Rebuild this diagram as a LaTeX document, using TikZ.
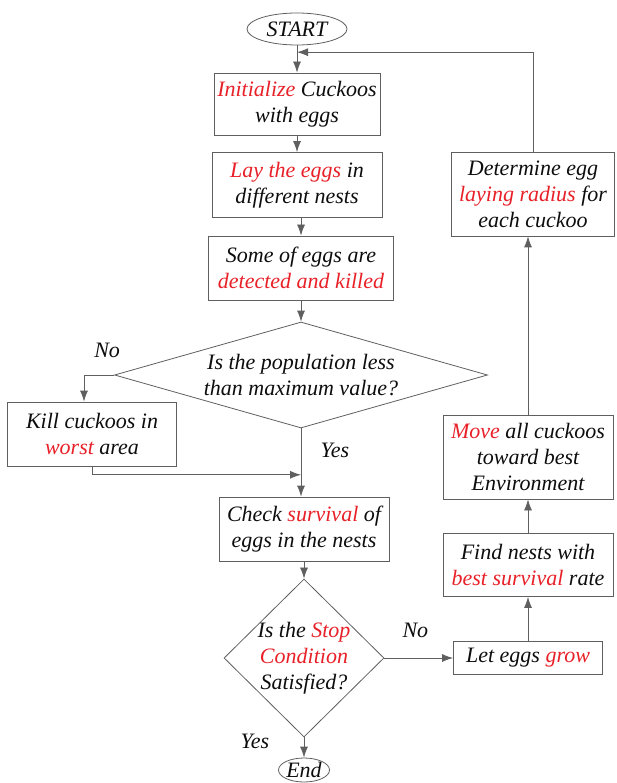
\documentclass[tikz,border=0pt]{standalone}
\usepackage{fontspec}
\setmainfont{Liberation Serif}
\usetikzlibrary{shapes.geometric,arrows.meta,calc}
\definecolor{hotred}{RGB}{232,32,40}
\definecolor{linegray}{RGB}{95,95,95}
\newcommand{\hot}[1]{\textcolor{hotred}{#1}}

\begin{document}
\begin{tikzpicture}[x=1pt,y=-1pt,
  every node/.style={font=\fontsize{22}{26}\selectfont\itshape, text=black!95}]

\useasboundingbox (0,0) rectangle (616,783);

%blocks
\tikzstyle{procbox}  = [draw=linegray, line width=0.8pt, rectangle, align=center, inner sep=2pt]
\tikzstyle{decision} = [draw=linegray, line width=0.8pt, diamond, align=center, inner sep=0pt]
\tikzstyle{terminal} = [draw=linegray, line width=0.8pt, ellipse, inner sep=0pt]
\tikzstyle{flow}     = [draw=linegray, line width=0.8pt, -{Latex[length=11pt,width=8pt]}]

%main column
\node (start) [terminal, minimum width=100pt, minimum height=32pt] at (297,29) {START};
\node (init)  [procbox, below of=start, node distance=75pt, minimum width=166pt, minimum height=62pt] {\hot{Initialize} Cuckoos\\with eggs};
\node (lay)   [procbox, below of=init, node distance=81pt, minimum width=170pt, minimum height=65pt] {\hot{Lay the eggs} in\\different nests};
\node (some)  [procbox, below of=lay, node distance=83pt, xshift=4pt, minimum width=185pt, minimum height=64pt] {Some of eggs are\\\hot{detected and killed}};
\node (popq)  [decision, below of=some, node distance=107pt, aspect=3.5, minimum width=373pt, minimum height=106pt] {Is the population less\\than maximum value?};
\node (kill)  [procbox, left of=popq, node distance=209pt, yshift=-59pt, minimum width=169pt, minimum height=64pt] {Kill cuckoos in\\\hot{worst} area};
\node (check) [procbox, below of=popq, node distance=154pt, xshift=3pt, minimum width=170pt, minimum height=64pt] {Check \hot{survival} of\\eggs in the nests};
\node (stopq) [decision, below of=check, node distance=129pt, aspect=1, inner sep=-8pt, minimum width=160pt, minimum height=158pt] {Is the \hot{Stop}\\\hot{Condition}\\Satisfied?};
\node (end)   [terminal, below of=stopq, node distance=112pt, minimum width=51pt, minimum height=24pt] {End};

%right column
\node (grow)  [procbox, right of=stopq, node distance=224pt, minimum width=149pt, minimum height=33pt] {Let eggs \hot{grow}};
\node (find)  [procbox, above of=grow, node distance=93pt, minimum width=170pt, minimum height=63pt] {Find nests with\\\hot{best survival} rate};
\node (move)  [procbox, above of=find, node distance=108pt, minimum width=170pt, minimum height=84pt] {\hot{Move} all cuckoos\\toward best\\Environment};
\node (det)   [procbox, above of=move, node distance=263pt, xshift=5pt, minimum width=163pt, minimum height=84pt] {Determine egg\\\hot{laying radius} for\\each cuckoo};

%labels
\node (nopop)   at ([xshift=-7pt,yshift=25pt]popq.west)   {No};
\node (yespop)  at ([xshift=34pt,yshift=-22pt]popq.south) {Yes};
\node (nostop)  at ([xshift=31pt,yshift=28pt]stopq.east)  {No};
\node (yesstop) at ([xshift=-49pt,yshift=-4pt]stopq.south) {Yes};

%helper points
\coordinate (back)  at ($(start.south)!0.25!(init.north)$);
\coordinate (merge) at ($(popq.south)!0.68!(popq.south |- check.north)$);

%connectors
\draw [flow] (start) -- (init);
\draw [flow] (init) -- (lay);
\draw [flow] (lay.south -| some.north) -- (some.north);
\draw [flow] (some) -- (popq);
\draw [flow] (popq.west) -| ([xshift=-8pt]kill.north);
\draw [flow] (popq.south) -- (popq.south |- check.north);
\draw [flow] (kill.south) |- (merge);
\draw [flow] (check) -- (stopq);
\draw [flow] (stopq) -- (end);
\draw [flow] (stopq.east) -- (grow.west);
\draw [flow] (grow) -- (find);
\draw [flow] (find) -- (move);
\draw [flow] (move.north) -- (move.north |- det.south);
\draw [flow] (det.north) |- (back);

\end{tikzpicture}
\end{document}
